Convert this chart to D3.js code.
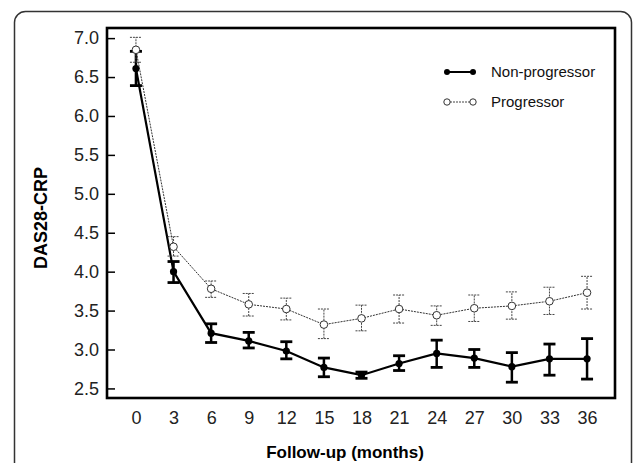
<!DOCTYPE html>
<html>
<head>
<meta charset="utf-8">
<script src="https://cdn.jsdelivr.net/npm/d3@7/dist/d3.min.js"></script>
<style>
  body { margin: 0; background: #fff; }
  svg text { font-family: "Liberation Sans", Arial, sans-serif; }
</style>
</head>
<body>
<script>
// follow-up months
var months = [0, 3, 6, 9, 12, 15, 18, 21, 24, 27, 30, 33, 36];

// non-progressor: mean, lower, upper
var nonProgMean  = [6.61, 4.00, 3.21, 3.11, 2.98, 2.77, 2.67, 2.82, 2.95, 2.89, 2.78, 2.88, 2.88];
var nonProgLow   = [6.39, 3.86, 3.09, 3.02, 2.88, 2.65, 2.63, 2.73, 2.77, 2.77, 2.58, 2.67, 2.62];
var nonProgHigh  = [6.83, 4.13, 3.33, 3.22, 3.10, 2.89, 2.71, 2.92, 3.12, 3.00, 2.96, 3.07, 3.14];

// progressor: mean, lower, upper
var progMean = [6.85, 4.32, 3.78, 3.58, 3.52, 3.32, 3.40, 3.52, 3.44, 3.53, 3.56, 3.62, 3.73];
var progLow  = [6.69, 4.20, 3.67, 3.43, 3.38, 3.14, 3.24, 3.34, 3.31, 3.36, 3.39, 3.45, 3.52];
var progHigh = [7.01, 4.45, 3.88, 3.72, 3.66, 3.52, 3.57, 3.70, 3.56, 3.70, 3.74, 3.80, 3.94];

var yTicks = [2.5, 3.0, 3.5, 4.0, 4.5, 5.0, 5.5, 6.0, 6.5, 7.0];
var seriesNames = ["Non-progressor", "Progressor"];

var W = 633, H = 463;
var plot = { left: 107, top: 28, right: 615, bottom: 398 };

var svg = d3.select("body").append("svg")
  .attr("width", W)
  .attr("height", H);

// outer rounded frame (runs off the bottom)
svg.append("rect")
  .attr("x", 14.5).attr("y", 11.5)
  .attr("width", 617).attr("height", 480)
  .attr("rx", 11)
  .attr("fill", "none")
  .attr("stroke", "#333")
  .attr("stroke-width", 1.5);

var x = d3.scaleLinear().domain([-2.31, 38.23]).range([plot.left, plot.right]);
var y = d3.scaleLinear().domain([2.377, 7.13]).range([plot.bottom, plot.top]);

// y axis, ticks pointing inward
var yAxis = d3.axisLeft(y)
  .tickValues(yTicks)
  .tickFormat(d3.format(".1f"))
  .tickSize(-8)
  .tickPadding(8);

svg.append("g")
  .attr("transform", "translate(" + plot.left + ",0)")
  .call(yAxis)
  .call(g => g.select(".domain").remove())
  .call(g => g.selectAll(".tick line").attr("stroke", "#000").attr("stroke-width", 1.5))
  .call(g => g.selectAll(".tick text")
    .attr("font-size", 18)
    .attr("fill", "#222")
    .attr("font-family", "Liberation Sans, Arial, sans-serif"));

var xAxis = d3.axisBottom(x)
  .tickValues(months)
  .tickSize(0)
  .tickPadding(13);

svg.append("g")
  .attr("transform", "translate(0," + plot.bottom + ")")
  .call(xAxis)
  .call(g => g.select(".domain").remove())
  .call(g => g.selectAll(".tick text")
    .attr("font-size", 18)
    .attr("fill", "#222")
    .attr("font-family", "Liberation Sans, Arial, sans-serif"));

// plot frame
svg.append("rect")
  .attr("x", plot.left).attr("y", plot.top)
  .attr("width", plot.right - plot.left)
  .attr("height", plot.bottom - plot.top)
  .attr("fill", "none")
  .attr("stroke", "#000")
  .attr("stroke-width", 2.6);

// axis titles
svg.append("text")
  .attr("x", 345).attr("y", 458)
  .attr("text-anchor", "middle")
  .attr("font-size", 17)
  .attr("font-weight", "bold")
  .text("Follow-up (months)");

svg.append("text")
  .attr("transform", "translate(47,218) rotate(-90)")
  .attr("text-anchor", "middle")
  .attr("font-size", 18)
  .attr("font-weight", "bold")
  .text("DAS28-CRP");

function makeData(mean, low, high) {
  return months.map((m, i) => ({ m: m, v: mean[i], lo: low[i], hi: high[i] }));
}

var prog = makeData(progMean, progLow, progHigh);
var nonProg = makeData(nonProgMean, nonProgLow, nonProgHigh);

var line = d3.line()
  .x(d => x(d.m))
  .y(d => y(d.v));

var capW = 6;

// progressor: dotted error bars, dotted line, open circles
var pg = svg.append("g");
pg.selectAll(".eb").data(prog).enter().append("line")
  .attr("x1", d => x(d.m)).attr("x2", d => x(d.m))
  .attr("y1", d => y(d.lo)).attr("y2", d => y(d.hi))
  .attr("stroke", "#444").attr("stroke-width", 1).attr("stroke-dasharray", "2,1");
pg.selectAll(".capHi").data(prog).enter().append("line")
  .attr("x1", d => x(d.m) - capW).attr("x2", d => x(d.m) + capW)
  .attr("y1", d => y(d.hi)).attr("y2", d => y(d.hi))
  .attr("stroke", "#444").attr("stroke-width", 1).attr("stroke-dasharray", "2,1");
pg.selectAll(".capLo").data(prog).enter().append("line")
  .attr("x1", d => x(d.m) - capW).attr("x2", d => x(d.m) + capW)
  .attr("y1", d => y(d.lo)).attr("y2", d => y(d.lo))
  .attr("stroke", "#444").attr("stroke-width", 1).attr("stroke-dasharray", "2,1");
pg.append("path")
  .datum(prog)
  .attr("d", line)
  .attr("fill", "none")
  .attr("stroke", "#333")
  .attr("stroke-width", 1)
  .attr("stroke-dasharray", "2,1");

// non-progressor: solid thick
var ng = svg.append("g");
ng.selectAll(".eb").data(nonProg).enter().append("line")
  .attr("x1", d => x(d.m)).attr("x2", d => x(d.m))
  .attr("y1", d => y(d.lo)).attr("y2", d => y(d.hi))
  .attr("stroke", "#000").attr("stroke-width", 2.5);
ng.selectAll(".capHi").data(nonProg).enter().append("line")
  .attr("x1", d => x(d.m) - capW).attr("x2", d => x(d.m) + capW)
  .attr("y1", d => y(d.hi)).attr("y2", d => y(d.hi))
  .attr("stroke", "#000").attr("stroke-width", 2.8);
ng.selectAll(".capLo").data(nonProg).enter().append("line")
  .attr("x1", d => x(d.m) - capW).attr("x2", d => x(d.m) + capW)
  .attr("y1", d => y(d.lo)).attr("y2", d => y(d.lo))
  .attr("stroke", "#000").attr("stroke-width", 2.8);
ng.append("path")
  .datum(nonProg)
  .attr("d", line)
  .attr("fill", "none")
  .attr("stroke", "#000")
  .attr("stroke-width", 2.2);
ng.selectAll("circle").data(nonProg).enter().append("circle")
  .attr("cx", d => x(d.m)).attr("cy", d => y(d.v))
  .attr("r", 3.6).attr("fill", "#000");

pg.raise();
pg.selectAll("circle").data(prog).enter().append("circle")
  .attr("cx", d => x(d.m)).attr("cy", d => y(d.v))
  .attr("r", 3.8).attr("fill", "#fff")
  .attr("stroke", "#333").attr("stroke-width", 1);

// legend
var legend = svg.append("g").attr("transform", "translate(447,72)");
seriesNames.forEach((name, i) => {
  var g = legend.append("g").attr("transform", "translate(0," + (i * 30) + ")");
  var solid = i === 0;
  g.append("line")
    .attr("x1", 0).attr("x2", 26)
    .attr("stroke", solid ? "#000" : "#444")
    .attr("stroke-width", solid ? 2 : 1)
    .attr("stroke-dasharray", solid ? null : "2,1");
  [0, 26].forEach(cx => {
    g.append("circle")
      .attr("cx", cx).attr("cy", 0).attr("r", solid ? 3 : 3.2)
      .attr("fill", solid ? "#000" : "#fff")
      .attr("stroke", solid ? "none" : "#333")
      .attr("stroke-width", 1);
  });
  g.append("text")
    .attr("x", 44).attr("y", 0)
    .attr("dy", "0.35em")
    .attr("font-size", 15)
    .attr("fill", "#111")
    .text(name);
});
</script>
</body>
</html>
